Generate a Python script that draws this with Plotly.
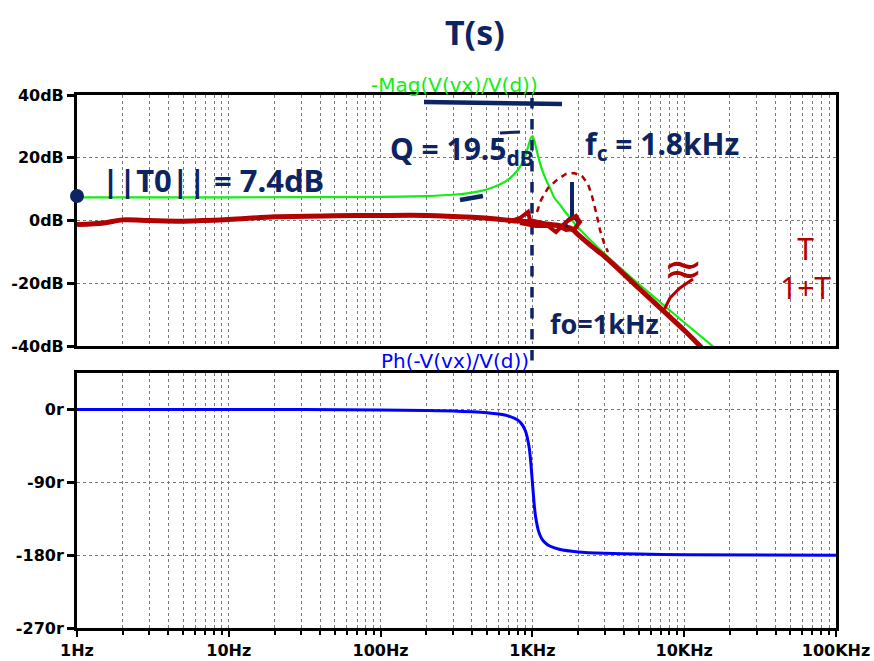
import plotly.graph_objects as go

# ---- data -------------------------------------------------------------
# loop gain magnitude, -Mag(V(vx)/V(d))
freq_mag = [1, 10, 100, 200, 300, 400, 500, 600, 700, 800, 850, 900, 950, 975,
            1000, 1025, 1050, 1100, 1150, 1200, 1250, 1300, 1400, 1500, 1600,
            1800, 2000, 2500, 3000, 5000, 10000, 20000]
mag_db = [7.4, 7.4, 7.5, 7.8, 8.2, 8.9, 9.9, 11.3, 13.2, 16.0, 18.1, 20.8, 24.4, 26.2,
          26.9, 25.8, 23.8, 19.8, 16.6, 14.2, 12.2, 10.5, 7.1, 5.4, 3.5,
          0.4, -2.2, -7.0, -10.7, -20.2, -32.5, -44.6]

# loop gain phase, Ph(-V(vx)/V(d)), degrees
freq_ph = [1, 10, 100, 200, 300, 400, 500, 600, 700, 800, 850, 900, 950, 975, 1000,
           1025, 1050, 1100, 1150, 1200, 1300, 1500, 2000, 3000, 5000, 10000, 100000]
phase_deg = [0, 0, -0.6, -1.3, -2.0, -2.9, -4.0, -5.7, -8.3, -13.2, -18.0, -26.6,
             -45.9, -64.4, -90, -115, -132.7, -151.0, -159.3, -163.9, -168.7,
             -172.7, -176.0, -177.7, -178.7, -179.4, -180]

# hand-sketched closed-loop response T/(1+T)
sketch_freq = [1, 1.5, 2, 3, 5, 10, 20, 50, 100, 200, 400, 600, 800, 900, 1000,
               1200, 1500, 1800, 2000, 2500, 3000, 5000, 10000, 13000]
sketch_db = [-1.3, -0.8, 0.2, 0.0, -0.2, 0.3, 1.2, 1.5, 1.6, 1.6, 1.0, 0.4, -0.2,
             -0.3, -0.5, -1.0, -1.6, -2.5, -4.5, -8.5, -11.5, -21.5, -35.0, -40.5]

decades = [1, 10, 100, 1000, 10000, 100000]
decade_labels = ["1Hz", "10Hz", "100Hz", "1KHz", "10KHz", "100KHz"]
mag_ticks = [-40, -20, 0, 20, 40]
mag_labels = ["-40dB", "-20dB", "0dB", "20dB", "40dB"]
ph_ticks = [-270, -180, -90, 0]
ph_labels = ["-270r", "-180r", "-90r", "0r"]

# ---- styling ----------------------------------------------------------
W, H = 874, 661
L, R, T, B = 77, 836, 95, 628          # plot area in pixels
INK = "#0c2461"
RED_INK = "#b30000"
GRID = "#7a7a7a"
FONT = "DejaVu Sans"


def px(x):
    return (x - L) / (R - L)


def py(y):
    return (B - y) / (B - T)


# 2..9 within every decade
minor_vals = [d * m for d in decades[:-1] for m in range(2, 10)]

fig = go.Figure()

fig.add_trace(go.Scatter(x=freq_mag, y=mag_db, mode="lines",
                         line=dict(color="#11ee11", width=2.2, shape="spline", smoothing=0.6),
                         xaxis="x", yaxis="y", showlegend=False))
fig.add_trace(go.Scatter(x=sketch_freq, y=sketch_db, mode="lines",
                         line=dict(color=RED_INK, width=5, shape="spline", smoothing=0.8),
                         xaxis="x", yaxis="y", showlegend=False))
fig.add_trace(go.Scatter(x=freq_ph, y=phase_deg, mode="lines",
                         line=dict(color="#0000ff", width=3, shape="spline", smoothing=0.5),
                         xaxis="x2", yaxis="y2", showlegend=False))

axis_common = dict(showline=True, mirror=True, linecolor="black", linewidth=3,
                   showgrid=True, gridcolor=GRID, gridwidth=1, griddash="3px,3px",
                   zeroline=False, automargin=False)
minor_grid = dict(tickmode="array", tickvals=minor_vals, showgrid=True,
                  gridcolor=GRID, gridwidth=1, griddash="3px,3px")

top_dom = [py(346), 1.0]
bot_dom = [0.0, py(373)]

fig.update_layout(
    width=W, height=H, autosize=False, showlegend=False,
    margin=dict(l=L, r=W - R, t=T, b=H - B, pad=0, autoexpand=False),
    paper_bgcolor="white", plot_bgcolor="white",
    font=dict(family=FONT, color="black"),
    xaxis=dict(type="log", range=[0, 5], domain=[0, 1], anchor="y",
               tickmode="array", tickvals=decades,
               showticklabels=False, ticks="", minor=dict(ticks="", **minor_grid),
               **axis_common),
    yaxis=dict(range=[-40, 40], domain=top_dom, anchor="x",
               tickvals=mag_ticks, ticktext=mag_labels, ticks="outside",
               ticklen=7, tickwidth=3, tickcolor="black",
               tickfont=dict(family=FONT, size=16, weight="bold"), **axis_common),
    xaxis2=dict(type="log", range=[0, 5], domain=[0, 1], anchor="y2", matches="x",
                tickmode="array", tickvals=decades, ticktext=decade_labels,
                ticks="outside", ticklen=6, tickwidth=2, tickcolor="black",
                minor=dict(ticks="outside", ticklen=4, tickwidth=2, tickcolor="black",
                           **minor_grid),
                tickfont=dict(family=FONT, size=16, weight="bold"), **axis_common),
    yaxis2=dict(range=[-270, 45], domain=bot_dom, anchor="x2",
                tickvals=ph_ticks, ticktext=ph_labels, ticks="outside",
                ticklen=7, tickwidth=3, tickcolor="black",
                tickfont=dict(family=FONT, size=16, weight="bold"), **axis_common),
)

# trace captions
fig.add_annotation(x=px(454), y=py(85), xref="paper", yref="paper", showarrow=False,
                   xanchor="center", yanchor="middle",
                   text="-Mag(V(vx)/V(d))", font=dict(family=FONT, size=20, color="#11ee11"))
fig.add_annotation(x=px(455), y=py(361), xref="paper", yref="paper", showarrow=False,
                   xanchor="center", yanchor="middle",
                   text="Ph(-V(vx)/V(d))", font=dict(family=FONT, size=20, color="#0000ff"))


def note(text, x, y, size, color=INK, xanchor="left", bold=True, family="Noto Sans"):
    fig.add_annotation(x=px(x), y=py(y), xref="paper", yref="paper", showarrow=False,
                       xanchor=xanchor, yanchor="middle", text=text,
                       font=dict(family=family, size=size, color=color,
                                 weight="bold" if bold else "normal"))


# handwritten notes
note("T(s)", 475, 32, 34, xanchor="center")
note("||T0|| = 7.4dB", 100, 180, 31)
note("Q = 19.5<sub>dB</sub>", 388, 150, 30)
note("f<sub>c</sub> = 1.8kHz", 583, 145, 30)
note("fo=1kHz", 548, 323, 27)
note("≈", 683, 268, 48, color=RED_INK, xanchor="center", bold=False, family="DejaVu Sans")
note("T<br>1+T", 805, 268, 30, color=RED_INK, xanchor="center", bold=False)


def seg(x0, y0, x1, y1, color=INK, width=4, dash="solid"):
    fig.add_shape(type="line", xref="paper", yref="paper",
                  x0=px(x0), y0=py(y0), x1=px(x1), y1=py(y1),
                  line=dict(color=color, width=width, dash=dash))


def dot(x, y, r, color=INK, fill=True, width=3):
    fig.add_shape(type="circle", xref="paper", yref="paper",
                  x0=px(x - r), x1=px(x + r), y0=py(y + r), y1=py(y - r),
                  line=dict(color=color, width=width),
                  fillcolor=color if fill else "rgba(0,0,0,0)")


def path(points, color, width, dash="solid"):
    d = "M " + " L ".join(f"{px(x):.5f},{py(y):.5f}" for x, y in points)
    fig.add_shape(type="path", xref="paper", yref="paper", path=d,
                  line=dict(color=color, width=width, dash=dash))


# f0 marker and peak markings
seg(532, 98, 532, 364, width=3.5, dash="dash")
seg(424, 102, 562, 104, width=4.5)
seg(460, 200, 483, 196, width=4.5)
seg(500, 133, 520, 132, width=3)
dot(77, 196, 5.5)

# crossover marker
seg(572, 182, 572, 218, width=4)
dot(572, 224, 6, fill=False, width=3)

# dashed peaking sketch around fc
path([(537, 212), (541, 200), (548, 188), (558, 179), (566, 174), (574, 173),
      (582, 176), (588, 184), (592, 196), (596, 212), (600, 230), (604, 243),
      (608, 252)], RED_INK, 2.5, dash="6px,5px")

# scribble around the resonance
path([(508, 222), (520, 218), (528, 212), (530, 220), (545, 224), (558, 226),
      (566, 230), (574, 229), (580, 222), (576, 216), (566, 222), (556, 232),
      (548, 226), (536, 226), (520, 223)], RED_INK, 4)

# tick on the sketched slope
path([(663, 312), (670, 298), (680, 288), (693, 279)], RED_INK, 3)

fig.write_html("out.html")
